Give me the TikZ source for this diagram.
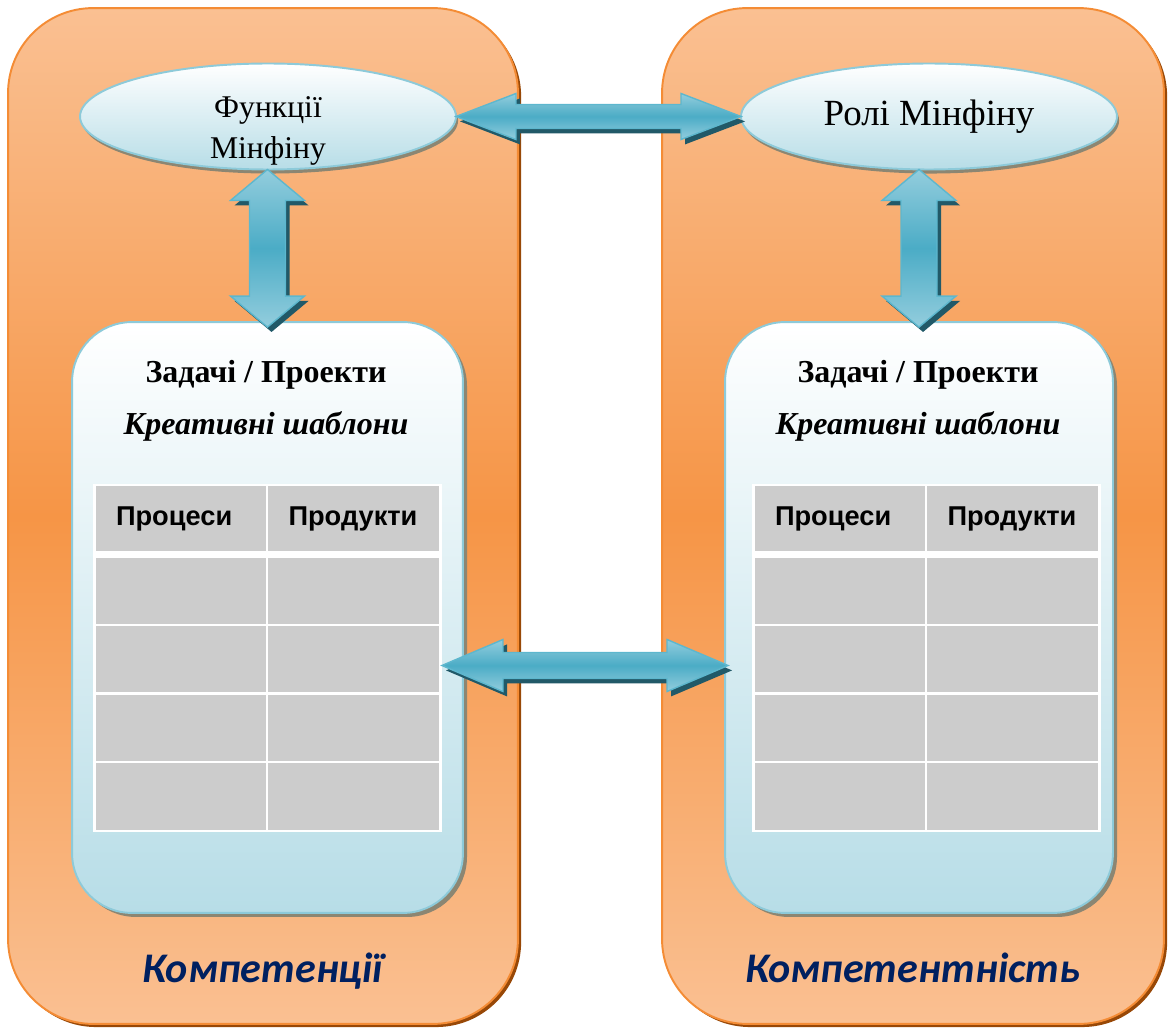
\documentclass[tikz,border=0pt]{standalone}
\usepackage{fontspec}
\setmainfont{Liberation Serif}
\setsansfont{Liberation Sans}
\newfontfamily\calfont{Carlito}
\usetikzlibrary{shapes.geometric,shadows,calc}

\definecolor{orlight}{HTML}{FAC092}
\definecolor{ormid}{HTML}{F69546}
\definecolor{orline}{HTML}{F48C35}
\definecolor{orshadow}{HTML}{984807}
\definecolor{bluelight}{HTML}{B7DDE7}
\definecolor{blueline}{HTML}{8DCAD9}
\definecolor{shadowgray}{HTML}{8C8672}
\definecolor{arrowmid}{HTML}{4BACC6}
\definecolor{arrowlight}{HTML}{93CDDD}
\definecolor{arrowline}{HTML}{5DB7CE}
\definecolor{arrowdark}{HTML}{215968}
\definecolor{cellgray}{HTML}{CCCCCC}
\definecolor{navy}{HTML}{002060}

\tikzset{
  compbox/.style={rectangle, rounded corners=1.7cm, draw=orline, line width=1.1pt,
    top color=orlight, bottom color=orlight, middle color=ormid,
    general shadow={fill=orshadow, shadow xshift=1.8pt, shadow yshift=-1.8pt},
    minimum height=20.32cm, inner sep=0pt, outer sep=0pt},
  taskbox/.style={rectangle, rounded corners=1.2cm, draw=blueline, line width=1.1pt,
    top color=white, bottom color=bluelight,
    general shadow={fill=shadowgray, shadow xshift=2.3pt, shadow yshift=-2.3pt},
    minimum height=11.82cm, inner sep=0pt, outer sep=0pt},
  rolebox/.style={ellipse, draw=blueline, line width=1.1pt,
    top color=white, bottom color=bluelight,
    general shadow={fill=shadowgray, shadow xshift=1.2pt, shadow yshift=-2.3pt},
    minimum width=7.52cm, minimum height=2.12cm, inner sep=0pt, outer sep=0pt},
  blockarrow/.style={draw=arrowline, line width=0.8pt,
    top color=arrowlight, bottom color=arrowlight, middle color=arrowmid,
    general shadow={fill=arrowdark, shadow xshift=2.3pt, shadow yshift=-2.8pt}},
  roletext/.style={align=center, font=\fontsize{18}{23.3}\selectfont},
  headtext/.style={anchor=base, font=\bfseries\fontsize{18.2}{21}\selectfont},
  subtext/.style={anchor=base, font=\bfseries\itshape\fontsize{18.2}{21}\selectfont},
  hdcell/.style={rectangle, fill=cellgray, minimum height=1.3cm, inner xsep=0.4cm,
    text width=2.6cm, align=left, font=\sffamily\bfseries\fontsize{15.5}{18}\selectfont},
  complabel/.style={anchor=base, text=navy, font=\calfont\bfseries\itshape\fontsize{24}{28}\selectfont}
}

% double block arrow, horizontal: tips, half head, half shaft, head length
\newcommand{\wideharrow}[5]{%
  \shade[blockarrow] (#1) -- ($(#1)+(#5,-#3)$) -- ($(#1)+(#5,-#4)$)
    -- ($(#2)+(-#5,-#4)$) -- ($(#2)+(-#5,-#3)$) -- (#2)
    -- ($(#2)+(-#5,#3)$) -- ($(#2)+(-#5,#4)$)
    -- ($(#1)+(#5,#4)$) -- ($(#1)+(#5,#3)$) -- cycle;}
% same, vertical (top tip, bottom tip)
\newcommand{\widevarrow}[5]{%
  \shade[blockarrow] (#1) -- ($(#1)+(#3,#5)$) -- ($(#1)+(#4,#5)$)
    -- ($(#2)+(#4,-#5)$) -- ($(#2)+(#3,-#5)$) -- (#2)
    -- ($(#2)+(-#3,-#5)$) -- ($(#2)+(-#4,-#5)$)
    -- ($(#1)+(-#4,#5)$) -- ($(#1)+(-#3,#5)$) -- cycle;}

\begin{document}
\begin{tikzpicture}[x=0.02cm, y=-0.02cm]
\useasboundingbox (0,0) rectangle (1171,1030);

% the two frames
\node[compbox, minimum width=10.2cm] (kl) at (263,516) {};
\node[compbox, minimum width=10.04cm] (kr) at (913,516) {};

% tasks / projects
\node[taskbox, minimum width=7.82cm] (zl) at (267.5,617.5) {};
\node[taskbox, minimum width=7.76cm] (zr) at (919,617.5) {};

\foreach \s/\cx/\tx in {l/266/95, r/918/754} {
  \node[headtext] (zt\s) at (\cx,383) {Задачі / Проекти};
  \node[subtext] (st\s) at (\cx,435) {Креативні шаблони};
  \fill[white] ({\tx-2},484) rectangle ({\tx+347},832);
  \node[hdcell, minimum width=3.4cm] (hp\s) at ({\tx+86},518.5) {Процеси};
  \node[hdcell, minimum width=3.42cm] (hd\s) at ({\tx+258.5},518.5) {Продукти};
  \foreach \r in {0,...,3} {
    \fill[cellgray] ({\tx+1},{558+68.5*\r}) rectangle ({\tx+171},{624+68.5*\r});
    \fill[cellgray] ({\tx+173},{558+68.5*\r}) rectangle ({\tx+344},{624+68.5*\r});
  }
}

% functions and roles
\node[rolebox] (fl) at (268,116.5) {};
\node[roletext] (flt) at (268,131) {Функції\\Мінфіну};
\node[rolebox, font=\fontsize{21}{25}\selectfont] (rr) at (929,116.5) {Ролі Мінфіну};

% connectors
\coordinate (fv) at (fl.south -| zl.north);
\coordinate (rv) at (rr.south -| zr.north);
\coordinate (zlt) at ($(zl.north)+(0,5)$);
\coordinate (zrt) at ($(zr.north)+(0,5)$);
\coordinate (al) at ($(zl.east)+(-21,48)$);
\coordinate (ar) at ($(zr.west)+(3,48)$);
\wideharrow{fl.east}{rr.west}{23}{12}{60}
\widevarrow{fv}{zlt}{37}{18}{31}
\widevarrow{rv}{zrt}{37}{18}{31}
\wideharrow{al}{ar}{26}{13}{61}

% captions
\node[complabel] (cpl) at (263,982) {Компетенції};
\node[complabel] (cpr) at (913,982) {Компетентність};
\end{tikzpicture}
\end{document}
